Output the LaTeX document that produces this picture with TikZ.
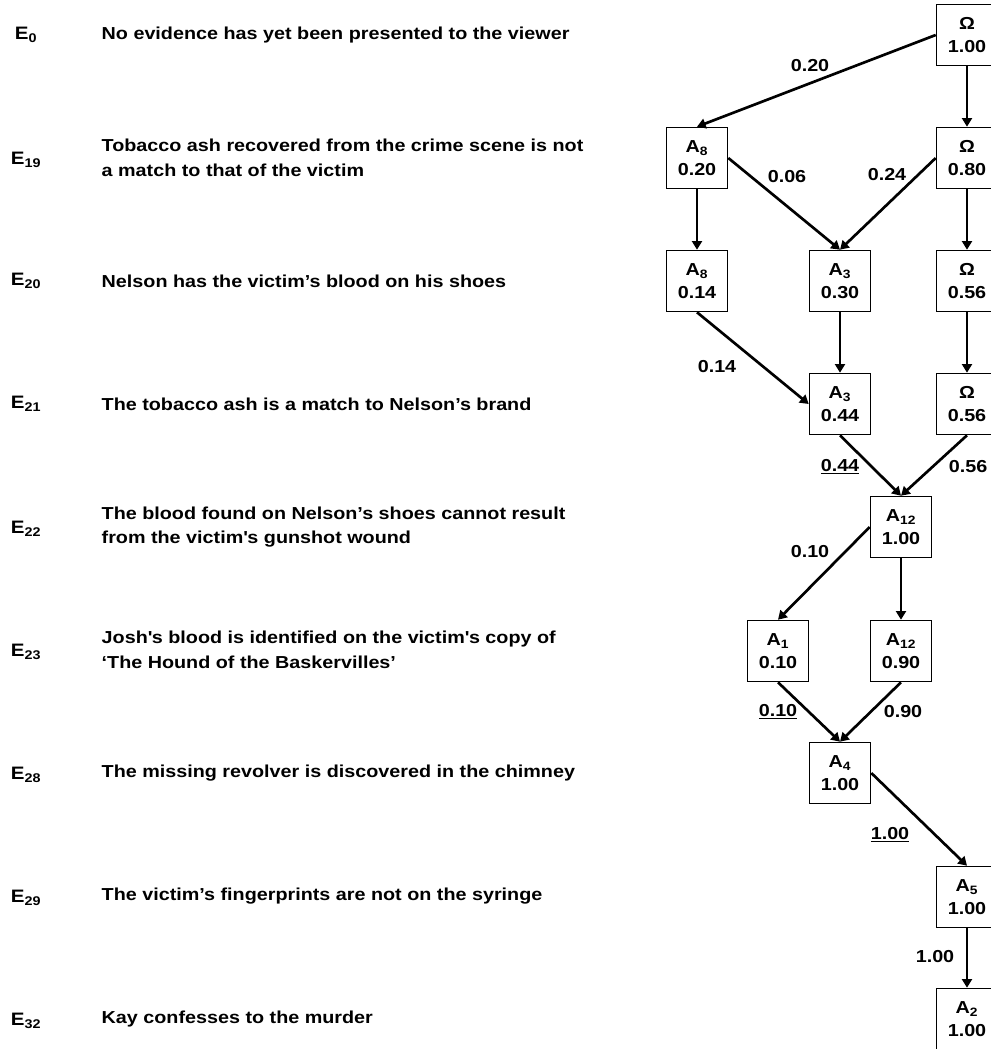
\documentclass[tikz,border=0pt]{standalone}
\usepackage{fontspec}
\setmainfont[FakeStretch=1.14]{Liberation Sans}
\usetikzlibrary{arrows.meta}

\begin{document}
\begin{tikzpicture}[x=0.75pt, y=-0.75pt,
  every node/.style={font=\bfseries\fontsize{13}{17.25}\selectfont},
  box/.style={draw, line width=1.2pt, minimum width=45.75pt, minimum height=45.75pt, align=center, inner sep=0pt},
  arr/.style={-{Triangle[length=6.5pt,width=7.5pt]}, line width=2pt},
  ev/.style={anchor=west, align=left, font=\bfseries\fontsize{13}{18.5}\selectfont},
  elab/.style={font=\bfseries\fontsize{13.5}{16}\selectfont}]
  \useasboundingbox (0,0) rectangle (990,1049);

  % evidence column
  \node[elab] (e0)  at (26,35)   {E\textsubscript{0}};
  \node[elab] (e19) at (26,160)  {E\textsubscript{19}};
  \node[elab] (e20) at (26,281)  {E\textsubscript{20}};
  \node[elab] (e21) at (26,404)  {E\textsubscript{21}};
  \node[elab] (e22) at (26,529)  {E\textsubscript{22}};
  \node[elab] (e23) at (26,652)  {E\textsubscript{23}};
  \node[elab] (e28) at (26,775)  {E\textsubscript{28}};
  \node[elab] (e29) at (26,898)  {E\textsubscript{29}};
  \node[elab] (e32) at (26,1021) {E\textsubscript{32}};
  \node[ev] (t0)  at (97,35)   {No evidence has yet been presented to the viewer};
  \node[ev] (t19) at (97,158)  {Tobacco ash recovered from the crime scene is not\\a match to that of the victim};
  \node[ev] (t20) at (97,281)  {Nelson has the victim’s blood on his shoes};
  \node[ev] (t21) at (97,404)  {The tobacco ash is a match to Nelson’s brand};
  \node[ev] (t22) at (97,527)  {The blood found on Nelson’s shoes cannot result\\from the victim\textquotesingle s gunshot wound};
  \node[ev] (t23) at (97,650)  {Josh\textquotesingle s blood is identified on the victim\textquotesingle s copy of\\‘The Hound of the Baskervilles’};
  \node[ev] (t28) at (97,773)  {The missing revolver is discovered in the chimney};
  \node[ev] (t29) at (97,896)  {The victim’s fingerprints are not on the syringe};
  \node[ev] (t32) at (97,1019) {Kay confesses to the murder};

  % belief boxes
  \node[box] (om1)  at (967,35)   {Ω\\1.00};
  \node[box] (a8a)  at (697,158)  {A\textsubscript{8}\\0.20};
  \node[box] (om2)  at (967,158)  {Ω\\0.80};
  \node[box] (a8b)  at (697,281)  {A\textsubscript{8}\\0.14};
  \node[box] (a3a)  at (840,281)  {A\textsubscript{3}\\0.30};
  \node[box] (om3)  at (967,281)  {Ω\\0.56};
  \node[box] (a3b)  at (840,404)  {A\textsubscript{3}\\0.44};
  \node[box] (om4)  at (967,404)  {Ω\\0.56};
  \node[box] (a12a) at (901,527)  {A\textsubscript{12}\\1.00};
  \node[box] (a1)   at (778,651)  {A\textsubscript{1}\\0.10};
  \node[box] (a12b) at (901,651)  {A\textsubscript{12}\\0.90};
  \node[box] (a4)   at (840,773)  {A\textsubscript{4}\\1.00};
  \node[box] (a5)   at (967,897)  {A\textsubscript{5}\\1.00};
  \node[box] (a2)   at (967,1019) {A\textsubscript{2}\\1.00};

  % transitions
  \draw[arr] (om1.west) -- (a8a.north);
  \draw[arr] (om1) -- (om2);
  \draw[arr] (a8a.east) -- (a3a.north);
  \draw[arr] (om2.west) -- (a3a.north);
  \draw[arr] (a8a) -- (a8b);
  \draw[arr] (om2) -- (om3);
  \draw[arr] (a8b.south) -- (a3b.west);
  \draw[arr] (a3a) -- (a3b);
  \draw[arr] (om3) -- (om4);
  \draw[arr] (a3b.south) -- (a12a.north);
  \draw[arr] (om4.south) -- (a12a.north);
  \draw[arr] (a12a.west) -- (a1.north);
  \draw[arr] (a12a) -- (a12b);
  \draw[arr] (a1.south) -- (a4.north);
  \draw[arr] (a12b.south) -- (a4.north);
  \draw[arr] (a4.east) -- (a5.north);
  \draw[arr] (a5) -- (a2);

  % weights
  \node (w1)  at (810,66)  {0.20};
  \node (w2)  at (787,177) {0.06};
  \node (w3)  at (887,175) {0.24};
  \node (w4)  at (717,367) {0.14};
  \node (w5)  at (840,467) {\underline{0.44}};
  \node (w6)  at (968,467) {0.56};
  \node (w7)  at (810,552) {0.10};
  \node (w8)  at (778,712) {\underline{0.10}};
  \node (w9)  at (903,712) {0.90};
  \node (w10) at (890,835) {\underline{1.00}};
  \node (w11) at (935,957) {1.00};
\end{tikzpicture}
\end{document}
